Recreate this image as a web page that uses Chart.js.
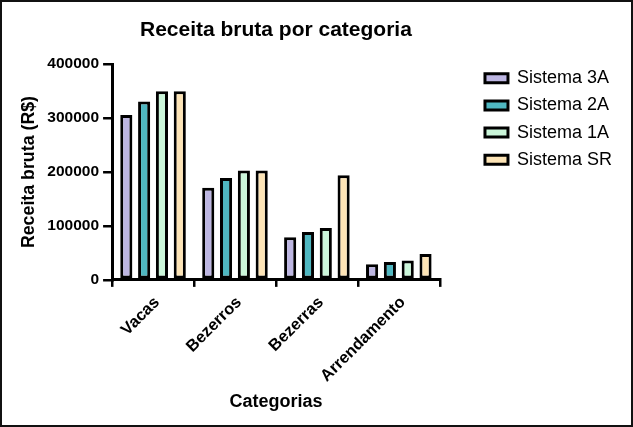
<!DOCTYPE html>
<html>
<head>
<meta charset="utf-8">
<script src="https://cdn.jsdelivr.net/npm/chart.js@4"></script>
<style>
  html, body { margin: 0; padding: 0; background: #fff; }
  #wrap { width: 629px; height: 423px; border: 2px solid #111; position: relative; }
  canvas { display: block; }
</style>
</head>
<body>
<div id="wrap"><canvas id="chart" width="629" height="423"></canvas></div>
<script>
// Categories and series (R$)
const categories = ["Vacas", "Bezerros", "Bezerras", "Arrendamento"];
const seriesNames = ["Sistema 3A", "Sistema 2A", "Sistema 1A", "Sistema SR"];
const sistema3A = [306000, 171000, 79000, 29000];
const sistema2A = [331000, 189000, 89000, 33000];
const sistema1A = [350000, 203000, 96000, 36000];
const sistemaSR = [350000, 203000, 194000, 48000];
const yTicks = [0, 100000, 200000, 300000, 400000];

const colors = ["#bdb6e2", "#4fb7c1", "#cbf6da", "#fde4b6"];
const values = [sistema3A, sistema2A, sistema1A, sistemaSR];

const font = "'Liberation Sans', Arial, sans-serif";
const LEGEND_GAP = 36; // empty space between plot and legend

// widen the legend box and push its items right, leaving a gap next to the plot
const legendGap = {
    id: "legendGap",
    beforeLayout(chart) {
        const lg = chart.legend;
        if (lg && !lg._gapWrapped) {
            const fit = lg.fit.bind(lg);
            lg.fit = function () { fit(); this.width += LEGEND_GAP; };
            lg._gapWrapped = true;
        }
    },
    afterLayout(chart) {
        const lg = chart.legend;
        if (lg) { lg.left += LEGEND_GAP; }
    }
};

const ctx = document.getElementById("chart").getContext("2d");
new Chart(ctx, {
    type: "bar",
    data: {
        labels: categories,
        datasets: seriesNames.map((name, i) => ({
            label: name,
            data: values[i],
            backgroundColor: colors[i],
            borderColor: "#000",
            borderWidth: 3,
            borderSkipped: false,
            categoryPercentage: 0.87,
            barPercentage: 0.68
        }))
    },
    options: {
        responsive: false,
        animation: false,
        layout: { padding: { left: 12, right: 9, top: 8, bottom: 14 } },
        plugins: {
            title: {
                display: true,
                fullSize: false,
                text: "Receita bruta por categoria",
                color: "#000",
                font: { family: font, size: 21, weight: "bold" },
                padding: { top: 8, bottom: 21 }
            },
            legend: {
                position: "right",
                align: "start",
                title: { display: true, text: " ", font: { size: 10 }, padding: { top: 38, bottom: 0 } },
                labels: {
                    color: "#000",
                    font: { family: font, size: 18 },
                    boxWidth: 23,
                    boxHeight: 9,
                    padding: 9.2
                }
            },
            tooltip: { enabled: false }
        },
        scales: {
            x: {
                grid: { display: true, drawOnChartArea: false, color: "#000", lineWidth: 2.5, tickLength: 7 },
                border: { color: "#000", width: 3 },
                ticks: {
                    color: "#000",
                    font: { family: font, size: 16.4, weight: "bold" },
                    minRotation: 45,
                    maxRotation: 45,
                    padding: 6,
                    labelOffset: 4
                },
                title: {
                    display: true,
                    text: "Categorias",
                    color: "#000",
                    font: { family: font, size: 18, weight: "bold", lineHeight: 1 },
                    padding: { top: 1, bottom: 0 }
                }
            },
            y: {
                min: 0,
                max: 400000,
                afterBuildTicks: axis => { axis.ticks = yTicks.map(v => ({ value: v })); },
                grid: { display: true, drawOnChartArea: false, color: "#000", lineWidth: 2.5, tickLength: 9 },
                border: { color: "#000", width: 3 },
                ticks: {
                    color: "#000",
                    font: { family: font, size: 15.5, weight: "bold" },
                    padding: 4,
                    callback: v => String(v)
                },
                title: {
                    display: true,
                    text: "Receita bruta (R$)",
                    color: "#000",
                    font: { family: font, size: 17.8, weight: "bold" },
                    padding: { bottom: 4 }
                }
            }
        }
    },
    plugins: [legendGap]
});
</script>
</body>
</html>
